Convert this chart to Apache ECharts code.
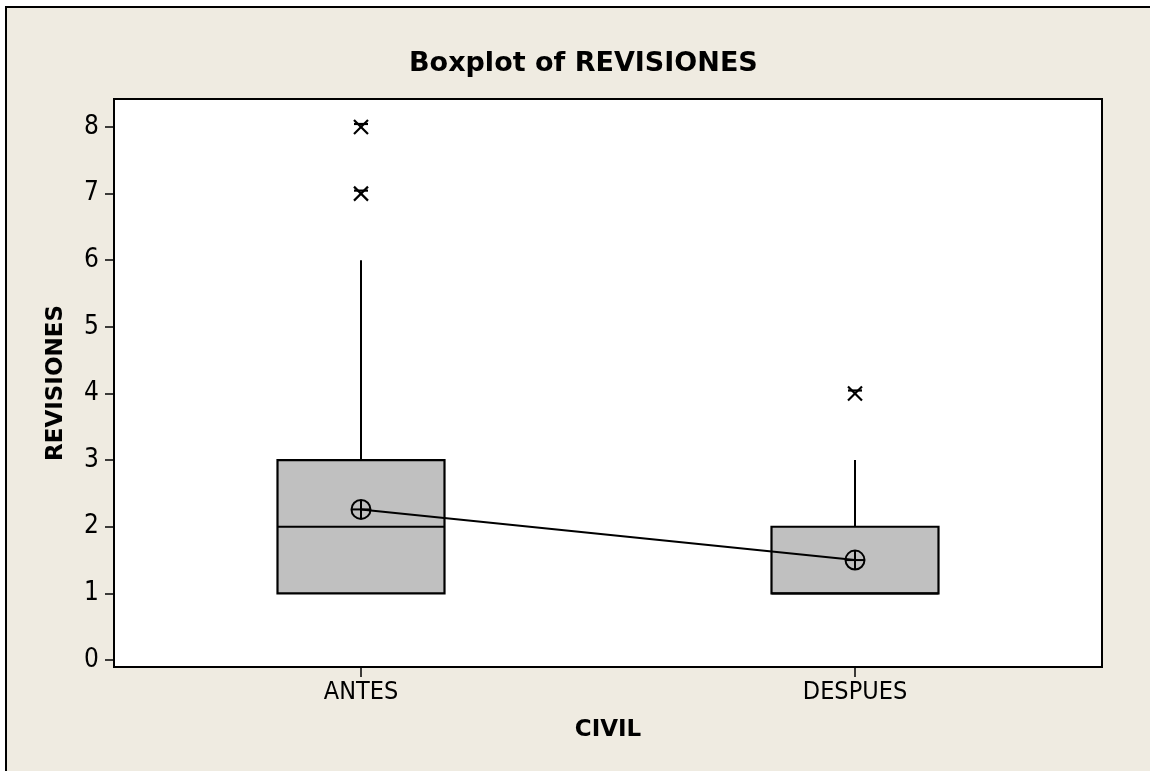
<!DOCTYPE html>
<html>
<head>
<meta charset="utf-8">
<script src="https://cdn.jsdelivr.net/npm/echarts@6/dist/echarts.min.js"></script>
<style>html,body{margin:0;padding:0;background:#fff}#c{width:1150px;height:771px}</style>
</head>
<body>
<div id="c"></div>
<script>
const categories = ['ANTES', 'DESPUES'];
const whiskerLow = [1, 1];
const q1 = [1, 1];
const median = [2, 1];
const q3 = [3, 2];
const whiskerHigh = [6, 3];
const means = [2.26, 1.5];
const outliers = [[0, 7], [0, 8], [1, 4]];
const yTicks = [0, 1, 2, 3, 4, 5, 6, 7, 8];

const FONT = 'DejaVu Sans';
const TICK_FONT = "'DejaVu Sans Condensed', 'DejaVu Sans'";
const BOX_W = 167;

const chart = echarts.init(document.getElementById('c'), null, {renderer: 'canvas'});

function renderBox(params, api) {
  const i = api.value(0);
  const x = api.coord([i, q1[i]])[0];
  const yQ1 = api.coord([i, api.value(2)])[1];
  const yQ3 = api.coord([i, api.value(4)])[1];
  const yMed = api.coord([i, api.value(3)])[1];
  const yHi = api.coord([i, api.value(5)])[1];
  const yLo = api.coord([i, api.value(1)])[1];
  const w = BOX_W / 2;
  const ls = {stroke: '#000', lineWidth: 2};
  return {
    type: 'group',
    children: [
      {type: 'line', shape: {x1: x, y1: yQ3, x2: x, y2: yHi}, style: ls},
      {type: 'line', shape: {x1: x, y1: yQ1, x2: x, y2: yLo}, style: ls},
      {type: 'rect', shape: {x: x - w, y: yQ3, width: 2 * w, height: yQ1 - yQ3},
        style: {fill: '#C0C0C0', stroke: '#000', lineWidth: 2.2}},
      {type: 'line', shape: {x1: x - w, y1: yMed, x2: x + w, y2: yMed}, style: ls}
    ]
  };
}

function renderMean(params, api) {
  const p = api.coord([api.value(0), api.value(1)]);
  const r = 9.5;
  const st = {stroke: '#000', lineWidth: 2, fill: null};
  return {
    type: 'group',
    children: [
      {type: 'circle', shape: {cx: p[0], cy: p[1], r: r}, style: {stroke: '#000', lineWidth: 2, fill: 'rgba(0,0,0,0)'}},
      {type: 'line', shape: {x1: p[0] - r, y1: p[1], x2: p[0] + r, y2: p[1]}, style: st},
      {type: 'line', shape: {x1: p[0], y1: p[1] - r, x2: p[0], y2: p[1] + r}, style: st}
    ]
  };
}

function renderStar(params, api) {
  const p = api.coord([api.value(0), api.value(1)]);
  const s = 7;
  const st = {stroke: '#000', lineWidth: 2.2};
  return {
    type: 'group',
    children: [
      {type: 'line', shape: {x1: p[0] - s, y1: p[1] - s, x2: p[0] + s, y2: p[1] + s}, style: st},
      {type: 'line', shape: {x1: p[0] + s, y1: p[1] - s, x2: p[0] - s, y2: p[1] + s}, style: st},
      {type: 'line', shape: {x1: p[0] - s, y1: p[1] - 3, x2: p[0] + s, y2: p[1] - 3}, style: st}
    ]
  };
}

const boxData = categories.map((c, i) => [i, whiskerLow[i], q1[i], median[i], q3[i], whiskerHigh[i]]);
const meanData = categories.map((c, i) => [i, means[i]]);

chart.setOption({
  backgroundColor: '#ffffff',
  animation: false,
  graphic: [{
    type: 'rect', z: -100, silent: true,
    shape: {x: 6, y: 7, width: 1160, height: 780},
    style: {fill: '#EFEBE1', stroke: '#000', lineWidth: 2}
  }],
  title: {
    text: 'Boxplot of REVISIONES',
    left: 404, top: 45,
    textStyle: {fontFamily: FONT, fontWeight: 'bold', fontSize: 27, color: '#000'}
  },
  grid: {
    left: 114, right: 48, top: 99, bottom: 104,
    show: true, backgroundColor: '#fff', borderColor: '#000', borderWidth: 2
  },
  xAxis: {
    type: 'category',
    data: categories,
    boundaryGap: true,
    name: 'CIVIL',
    nameLocation: 'middle',
    nameGap: 52,
    nameTextStyle: {fontFamily: FONT, fontWeight: 'bold', fontSize: 23, color: '#000'},
    axisLine: {show: true, onZero: false, lineStyle: {color: '#000', width: 2}},
    axisTick: {show: true, alignWithLabel: true, length: 10, lineStyle: {color: '#000', width: 1.5}},
    axisLabel: {fontFamily: TICK_FONT, fontSize: 25, color: '#000', margin: 13},
    splitLine: {show: false}
  },
  yAxis: {
    type: 'value',
    min: -0.105, max: 8.42,
    name: 'REVISIONES',
    nameLocation: 'middle',
    nameGap: 46,
    nameRotate: 90,
    nameTextStyle: {fontFamily: FONT, fontWeight: 'bold', fontSize: 23, color: '#000'},
    axisLine: {show: true, onZero: false, lineStyle: {color: '#000', width: 2}},
    axisTick: {show: true, length: 9, customValues: yTicks, lineStyle: {color: '#000', width: 1.5}},
    axisLabel: {fontFamily: TICK_FONT, fontSize: 26, color: '#000', margin: 15, customValues: yTicks},
    splitLine: {show: false}
  },
  series: [
    {
      type: 'custom', name: 'box', renderItem: renderBox, data: boxData,
      encode: {x: 0, y: [1, 2, 3, 4, 5]}, z: 2
    },
    {
      type: 'line', name: 'meanline', data: meanData, symbol: 'none',
      lineStyle: {color: '#000', width: 2}, z: 3
    },
    {
      type: 'custom', name: 'mean', renderItem: renderMean, data: meanData,
      encode: {x: 0, y: 1}, z: 4
    },
    {
      type: 'custom', name: 'outliers', renderItem: renderStar, data: outliers,
      encode: {x: 0, y: 1}, z: 4
    }
  ]
});
</script>
</body>
</html>
